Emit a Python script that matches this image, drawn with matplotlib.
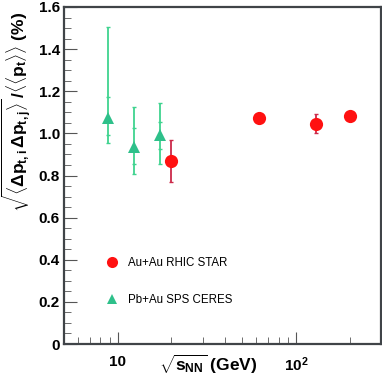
import matplotlib
matplotlib.use("Agg")
import matplotlib.pyplot as plt
import numpy as np
from matplotlib.ticker import LogLocator, FixedLocator, MultipleLocator, NullFormatter
from matplotlib.lines import Line2D

plt.rcParams['font.family'] = ['Liberation Sans', 'DejaVu Sans']
plt.rcParams['mathtext.fontset'] = 'custom'
plt.rcParams['mathtext.rm'] = 'Liberation Sans:bold'
plt.rcParams['mathtext.it'] = 'Liberation Sans:bold'
plt.rcParams['mathtext.bf'] = 'Liberation Sans:bold'
plt.rcParams['mathtext.sf'] = 'Liberation Sans:bold'

# STAR Au+Au
star_x = [20.0, 62.4, 130.0, 200.0]
star_y = [0.870, 1.075, 1.045, 1.084]
star_err_lo = [0.10, 0.0, 0.045, 0.0]
star_err_hi = [0.10, 0.0, 0.045, 0.0]

# CERES Pb+Au
ceres_x = [8.8, 12.3, 17.3]
ceres_y = [1.075, 0.937, 0.990]
ceres_tot_hi = [1.505, 1.124, 1.143]
ceres_tot_lo = [0.953, 0.806, 0.853]
ceres_stat_hi = [1.174, 1.027, 1.053]
ceres_stat_lo = [0.992, 0.853, 0.925]

W, H = 382, 381
fig = plt.figure(figsize=(W/100, H/100), dpi=100)
ax = fig.add_axes([64/W, (H-344)/H, (381-64)/W, (344-7)/H])
ax.set_xscale('log')
ax.set_xlim(5, 300)
ax.set_ylim(0, 1.6)

green_line = '#3fd38f'
green_mk = '#2ec08a'
red_line = '#cc2a4a'
red_mk = '#ff1111'

cy = np.array(ceres_y)
ax.errorbar(ceres_x, ceres_y,
            yerr=[cy - np.array(ceres_tot_lo), np.array(ceres_tot_hi) - cy],
            fmt='none', ecolor=green_line, elinewidth=1.3, capsize=1.5, capthick=1.0, zorder=2)
ax.errorbar(ceres_x, ceres_y,
            yerr=[cy - np.array(ceres_stat_lo), np.array(ceres_stat_hi) - cy],
            fmt='none', ecolor=green_line, elinewidth=0, capsize=1.5, capthick=1.0, zorder=2)
ax.plot(ceres_x, ceres_y, linestyle='none', marker='^', ms=8, color=green_mk,
        markeredgewidth=0, zorder=3)

ax.errorbar(star_x, star_y, yerr=[star_err_lo, star_err_hi], fmt='none',
            ecolor=red_line, elinewidth=1.3, capsize=1.5, capthick=1.0, zorder=2)
ax.plot(star_x, star_y, linestyle='none', marker='o', ms=9.5, color=red_mk,
        markeredgewidth=0, zorder=3)

# ticks
ax.yaxis.set_minor_locator(MultipleLocator(0.05))
ax.set_yticks([0, 0.2, 0.4, 0.6, 0.8, 1.0, 1.2, 1.4, 1.6])
ax.set_yticklabels(['0', '0.2', '0.4', '0.6', '0.8', '1.0', '1.2', '1.4', '1.6'],
                   fontweight='bold', fontsize=11)
ax.xaxis.set_major_locator(FixedLocator([10, 100]))
ax.xaxis.set_minor_locator(LogLocator(base=10, subs=np.arange(2, 10)))
ax.xaxis.set_minor_formatter(NullFormatter())
ax.set_xticklabels(['10', r'$\mathbf{10^2}$'], fontweight='bold', fontsize=11)
ax.tick_params(axis='both', which='both', direction='in', top=False, right=False,
               color='#555555')
ax.tick_params(axis='y', which='major', length=9, width=0.8, pad=3)
ax.tick_params(axis='y', which='minor', length=5, width=0.6)
ax.tick_params(axis='x', which='major', length=9, width=0.8, pad=8)
ax.tick_params(axis='x', which='minor', length=5, width=0.6)
for s in ax.spines.values():
    s.set_color('#404448')
    s.set_linewidth(1.6)

ax.set_ylabel(r'$\sqrt{\langle\Delta p_{t,i}\,\Delta p_{t,j}\rangle}\,/\langle\langle p_t\rangle\rangle$ (%)',
              fontsize=12.5, fontweight='bold')
ax.yaxis.set_label_coords((17-64)/(381-64), (344-112)/337)
ax.yaxis.label.set_va('center')
ax.set_xlabel(r'$\sqrt{s_{NN}}$ (GeV)', fontsize=12.5, fontweight='bold')
ax.xaxis.set_label_coords((208-64)/(381-64), (344-364)/337)
ax.xaxis.label.set_va('center')

handles = [Line2D([], [], linestyle='none', marker='o', ms=8, color=red_mk, markeredgewidth=0),
           Line2D([], [], linestyle='none', marker='^', ms=7, color=green_mk, markeredgewidth=0)]
ax.legend(handles, ['Au+Au RHIC STAR', 'Pb+Au SPS CERES'], loc='upper left',
          bbox_to_anchor=((99-64)/(381-64), (344-252)/337), frameon=False,
          fontsize=8.3, labelspacing=2.2, handletextpad=0.6, handlelength=1.5,
          borderaxespad=0)

fig.savefig('out.png', dpi=100)
